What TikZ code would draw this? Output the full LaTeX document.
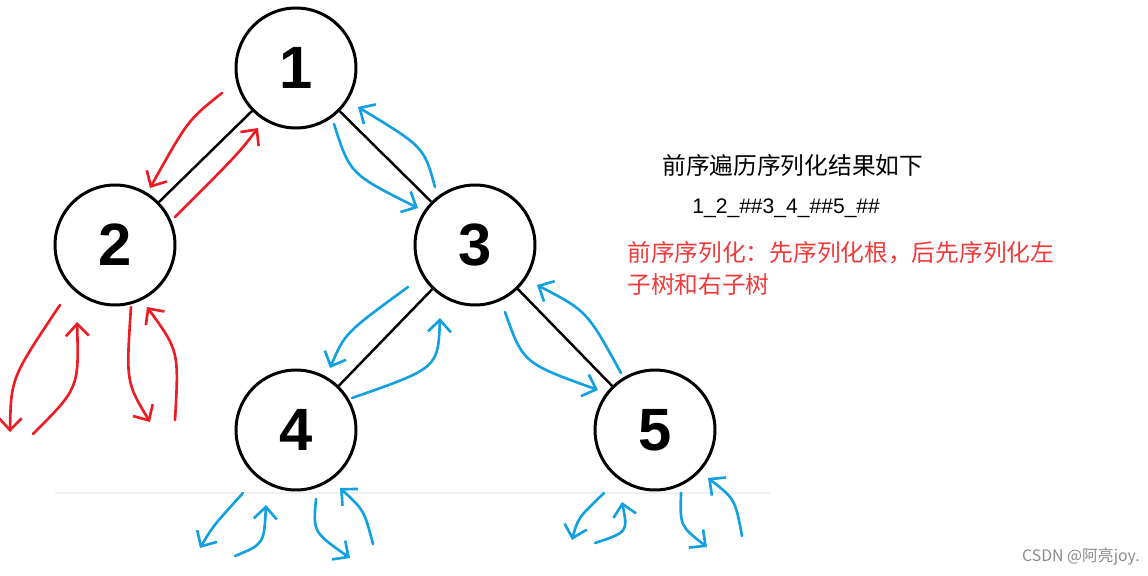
\documentclass[tikz,border=0pt]{standalone}
\usepackage{fontspec}
\usepackage{xcolor}
\usepackage{tikz}
\usetikzlibrary{arrows.meta}
\setmainfont{Liberation Sans}
\newfontfamily\cjk{Noto Sans CJK SC}
\definecolor{penred}{HTML}{EC1C24}
\definecolor{penblue}{HTML}{12A0E0}
\definecolor{notered}{HTML}{F03A3A}
\definecolor{floorgray}{HTML}{EEF0F2}
\definecolor{markgray}{HTML}{8A8A8A}

\begin{document}
\begin{tikzpicture}[x=0.02cm,y=-0.02cm,>={Straight Barb[length=2.4mm,width=4.6mm]}]
\tikzset{vertex/.style={draw,circle,line width=1.7pt,minimum size=2.4cm,inner sep=0pt,font=\fontsize{34}{34}\selectfont\bfseries},
  redpen/.style={->,penred,line width=1.5pt,line cap=round},
  bluepen/.style={->,penblue,line width=1.5pt,line cap=round}}
\useasboundingbox (0,0) rectangle (1148,575);
\draw[floorgray,line width=1.6pt] (55,493) -- (770,493);
\node[vertex] (n1) at (296,68) {1};
\node[vertex] (n2) at (115,245) {2};
\node[vertex] (n3) at (475,245) {3};
\node[vertex] (n4) at (296,430) {4};
\node[vertex] (n5) at (655,430) {5};
\foreach \a/\b in {n1/n2,n1/n3,n3/n4,n3/n5}{\draw[line width=1.4pt] (\a) -- (\b);}
% red strokes round node 2
\draw[redpen] (222,93) .. controls (188,120) .. (150,188);
\draw[redpen] (175,217) .. controls (238,154) .. (258,128);
\draw[redpen] (60,305) .. controls (11,378) .. (10,432);
\draw[redpen] (33,434) .. controls (79,388) .. (77,322);
\draw[redpen] (131,307) .. controls (126,382) .. (150,422);
\draw[redpen] (175,420) .. controls (179,351) .. (147,307);
% blue strokes
\draw[bluepen] (334,124) .. controls (350,174) .. (418,208);
\draw[bluepen] (435,187) .. controls (424,147) .. (358,107);
\draw[bluepen] (408,287) .. controls (345,333) .. (330,368);
\draw[bluepen] (352,398) .. controls (438,368) .. (440,318);
\draw[bluepen] (505,312) .. controls (523,363) .. (598,390);
\draw[bluepen] (621,373) .. controls (587,311) .. (537,285);
\draw[bluepen] (243,493) .. controls (213,526) .. (200,548);
\draw[bluepen] (235,556) .. controls (264,544) .. (266,505);
\draw[bluepen] (316,499) .. controls (313,532) .. (350,558);
\draw[bluepen] (373,544) .. controls (364,510) .. (340,488);
\draw[bluepen] (604,493) .. controls (578,518) .. (572,540);
\draw[bluepen] (595,543) .. controls (628,532) .. (622,502);
\draw[bluepen] (681,493) .. controls (680,526) .. (707,547);
\draw[bluepen] (742,536) .. controls (735,499) .. (708,478);
\node[anchor=west,inner sep=0pt,font=\cjk\fontsize{13.5}{16}\selectfont] (title) at (662,165) {前序遍历序列化结果如下};
\node[anchor=west,inner sep=0pt,font=\fontsize{12}{14}\selectfont] (seq) at (692,208) {1\_2\_\#\#3\_4\_\#\#5\_\#\#};
\node[anchor=north west,inner sep=0pt,align=left,text=notered,font=\cjk\fontsize{13.5}{18.2}\selectfont] (rule) at (627,241) {前序序列化：先序列化根，后先序列化左\\子树和右子树};
\node[anchor=east,inner sep=0pt,text=markgray,font=\cjk\fontsize{9}{11}\selectfont] (mark) at (1140,557) {CSDN @阿亮joy.};
\end{tikzpicture}
\end{document}
